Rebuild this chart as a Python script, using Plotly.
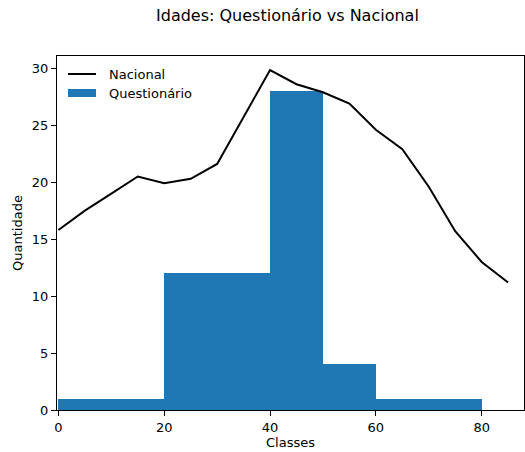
import plotly.graph_objects as go

# Histogram of questionnaire ages (class edges and counts)
bin_edges = [0, 20, 40, 50, 60, 80]
counts_questionario = [1, 12, 28, 4, 1]

# National age distribution, sampled every 5 years
idades_nacional = [0, 5, 10, 15, 20, 25, 30, 35, 40, 45, 50, 55, 60, 65, 70, 75, 80, 85]
valores_nacional = [15.8, 17.5, 19.0, 20.5, 19.9, 20.3, 21.6, 25.7, 29.85, 28.6, 27.9, 26.9,
                    24.6, 22.9, 19.6, 15.7, 13.0, 11.2]

BLUE = "#1f77b4"
FONT = "DejaVu Sans"

centers = [(a + b) / 2 for a, b in zip(bin_edges[:-1], bin_edges[1:])]
widths = [b - a for a, b in zip(bin_edges[:-1], bin_edges[1:])]

fig = go.Figure()
fig.add_trace(go.Bar(
    x=centers, y=counts_questionario, width=widths,
    marker=dict(color=BLUE, line=dict(width=0)),
    name="Questionário", showlegend=False,
))
fig.add_trace(go.Scatter(
    x=idades_nacional, y=valores_nacional, mode="lines",
    line=dict(color="black", width=2),
    name="Nacional", showlegend=False,
))

axis_common = dict(
    showline=True, linecolor="black", linewidth=1, mirror=True,
    ticks="outside", ticklen=5, tickcolor="black", tickwidth=1,
    showgrid=False, zeroline=False,
    tickfont=dict(family=FONT, size=13, color="black"),
)

fig.update_layout(
    width=525, height=452,
    margin=dict(l=57, r=1, t=56, b=42),
    plot_bgcolor="white", paper_bgcolor="white",
    bargap=0,
    font=dict(family=FONT, color="black"),
    xaxis=dict(range=[-0.27, 88.0], tickvals=[0, 20, 40, 60, 80],
               title=dict(text="Classes", font=dict(family=FONT, size=13), standoff=4),
               **axis_common),
    yaxis=dict(range=[0, 31.08], tickvals=[0, 5, 10, 15, 20, 25, 30],
               title=dict(text="Quantidade", font=dict(family=FONT, size=13), standoff=6),
               **axis_common),
)

# Figure title
fig.add_annotation(
    text="Idades: Questionário vs Nacional", xref="paper", yref="paper",
    x=(287 - 57) / 467, y=(452 - 16 - 42) / 354, xanchor="center", yanchor="middle",
    showarrow=False, font=dict(family=FONT, size=16, color="black"),
)

# Legend (upper left, frameless)
def px_x(p):
    return (p - 57) / 467

def px_y(p):
    return (410 - p) / 354

fig.add_shape(type="line", xref="paper", yref="paper",
              x0=px_x(68), x1=px_x(96), y0=px_y(74), y1=px_y(74),
              line=dict(color="black", width=2))
fig.add_shape(type="rect", xref="paper", yref="paper",
              x0=px_x(68), x1=px_x(96), y0=px_y(89), y1=px_y(97),
              line=dict(width=0), fillcolor=BLUE)
fig.add_annotation(text="Nacional", xref="paper", yref="paper",
                   x=px_x(107), y=px_y(74), xanchor="left", yanchor="middle",
                   showarrow=False, font=dict(family=FONT, size=13, color="black"))
fig.add_annotation(text="Questionário", xref="paper", yref="paper",
                   x=px_x(107), y=px_y(93), xanchor="left", yanchor="middle",
                   showarrow=False, font=dict(family=FONT, size=13, color="black"))

fig.write_html("out.html")
